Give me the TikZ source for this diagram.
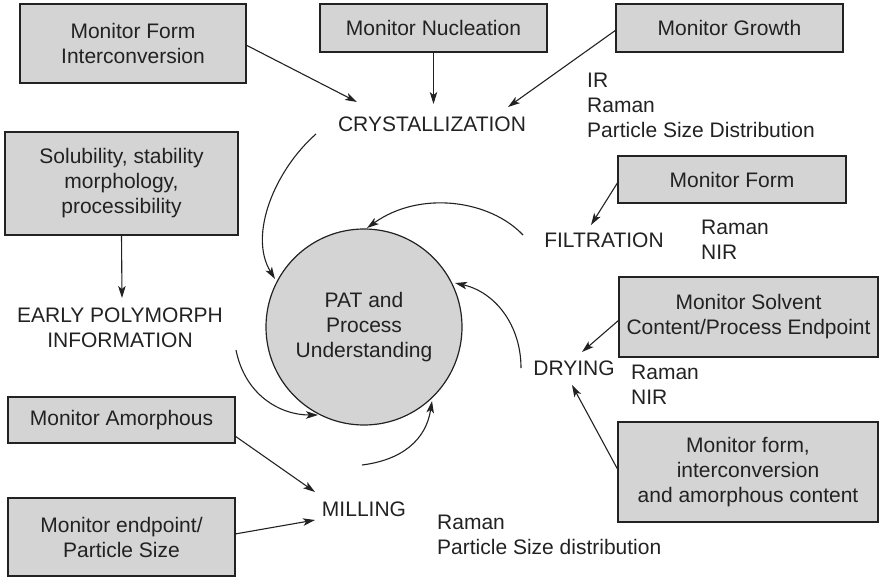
\documentclass[tikz,border=0pt]{standalone}
\usepackage{fontspec}
\setmainfont{Liberation Sans}
\usetikzlibrary{arrows.meta}
\definecolor{boxgray}{HTML}{D4D4D4}
\definecolor{ink}{HTML}{222222}
\begin{document}
\begin{tikzpicture}[x=1pt,y=-1pt,
  every node/.style={font=\fontsize{21}{25}\selectfont, text=ink},
  box/.style={draw=ink, fill=boxgray, line width=1.2pt, align=center, inner sep=0pt},
  lbl/.style={align=center, inner sep=1pt},
  lst/.style={align=left, anchor=west, inner sep=0pt},
  arr/.style={draw=ink, line width=1.1pt, -{Stealth[length=12pt,width=7.5pt,inset=3pt]}}
]
\useasboundingbox (0,0) rectangle (880,578);
% boxes
\node[box, minimum width=226pt, minimum height=79pt] (fi) at (133,43.5) {Monitor Form\\Interconversion};
\node[box, minimum width=227pt, minimum height=48pt] (nuc) at (433.5,28) {Monitor Nucleation};
\node[box, minimum width=227pt, minimum height=48pt] (gro) at (729.5,28) {Monitor Growth};
\node[box, minimum width=233pt, minimum height=103pt] (sol) at (121.5,183.5) {Solubility, stability\\morphology,\\processibility};
\node[box, minimum width=228pt, minimum height=47pt] (mf) at (732,179.5) {Monitor Form};
\node[box, minimum width=259pt, minimum height=80pt] (ms) at (748.5,317) {Monitor Solvent\\Content/Process Endpoint};
\node[box, minimum width=260pt, minimum height=100pt] (mfi) at (748,472) {Monitor form,\\interconversion\\and amorphous content};
\node[box, minimum width=227pt, minimum height=46pt] (ma) at (121.5,420) {Monitor Amorphous};
\node[box, minimum width=227pt, minimum height=78pt] (me) at (121.5,537) {Monitor endpoint/\\Particle Size};
% circle
\node[draw=ink, fill=boxgray, line width=1.2pt, circle, minimum size=196pt, align=center, inner sep=0pt] (pat) at (364,327) {PAT and\\Process\\Understanding};
% text labels
\node[lbl] (cry) at (432,124) {CRYSTALLIZATION};
\node[lst] (ir) at (587,105) {IR\\Raman\\Particle Size Distribution};
\node[lbl] (early) at (120,328) {EARLY POLYMORPH\\INFORMATION};
\node[lbl] (fil) at (604,240) {FILTRATION};
\node[lst] (rn1) at (701,240) {Raman\\NIR};
\node[lbl] (dry) at (574,368) {DRYING};
\node[lst] (rn2) at (631,385) {Raman\\NIR};
\node[lbl] (mil) at (364,509) {MILLING};
\node[lst] (rp) at (437,535) {Raman\\Particle Size distribution};
% straight arrows
\coordinate (fiE) at (246,45);
\coordinate (cryA) at (357,102);
\draw[arr] (fiE) -- (cryA);
\draw[arr] (nuc.south) -- (433.5,104);
\coordinate (groW) at (616,30);
\draw[arr] (groW) -- (508,107);
\draw[arr] (sol.south) -- (122,298);
\coordinate (mfW) at (618,182);
\draw[arr] (mfW) -- (591,225);
\coordinate (msW) at (619,320);
\draw[arr] (msW) -- (582,352);
\coordinate (mfiW) at (618,470);
\draw[arr] (mfiW) -- (572,385);
\coordinate (maE) at (235,436);
\draw[arr] (maE) -- (315,492);
\coordinate (meE) at (235,534);
\draw[arr] (meE) -- (315,520);
% curved arrows into PAT
\coordinate (c1s) at (316,134);
\coordinate (c1e) at (275,279);
\draw[arr] (c1s) .. controls (275,170) and (248,235) .. (c1e);
\coordinate (c2s) at (523,235);
\coordinate (c2e) at (367,228);
\draw[arr] (c2s) .. controls (490,200) and (420,190) .. (c2e);
\coordinate (c3s) at (521,368);
\coordinate (c3e) at (455,283);
\draw[arr] (c3s) .. controls (521,325) and (495,292) .. (c3e);
\coordinate (c4s) at (236,350);
\coordinate (c4e) at (318,415);
\draw[arr] (c4s) .. controls (245,395) and (280,415) .. (c4e);
\coordinate (c5s) at (362,465);
\coordinate (c5e) at (432,401);
\draw[arr] (c5s) .. controls (402,460) and (426,440) .. (c5e);
\end{tikzpicture}
\end{document}
